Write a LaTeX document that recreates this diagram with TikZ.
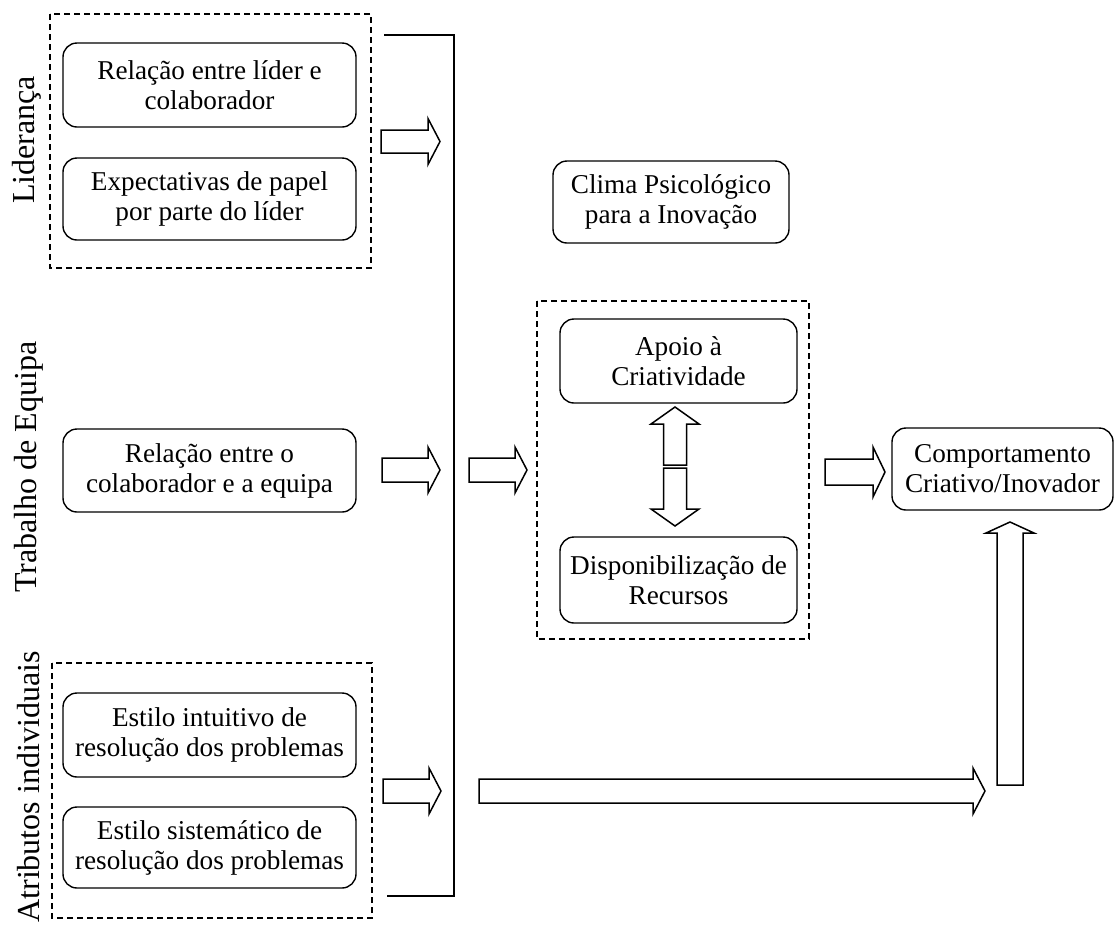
\documentclass[tikz,border=0pt]{standalone}
\usepackage{fontspec}
\setmainfont{Liberation Serif}

% Hollow block arrows: tail x, tip x, centre y, half body, half head, head length
\newcommand{\RBlock}[6]{%
  \draw[blk] (#1,#3-#4) -- (#2-#6,#3-#4) -- (#2-#6,#3-#5) -- (#2,#3)
    -- (#2-#6,#3+#5) -- (#2-#6,#3+#4) -- (#1,#3+#4) -- cycle;}
% centre x, tail y, tip y, half body, half head, head length (tip above)
\newcommand{\UBlock}[6]{%
  \draw[blk] (#1-#4,#2) -- (#1-#4,#3+#6) -- (#1-#5,#3+#6) -- (#1,#3)
    -- (#1+#5,#3+#6) -- (#1+#4,#3+#6) -- (#1+#4,#2) -- cycle;}
% same, tip below
\newcommand{\DBlock}[6]{%
  \draw[blk] (#1-#4,#2) -- (#1-#4,#3-#6) -- (#1-#5,#3-#6) -- (#1,#3)
    -- (#1+#5,#3-#6) -- (#1+#4,#3-#6) -- (#1+#4,#2) -- cycle;}

\begin{document}
\begin{tikzpicture}[x=1pt,y=-1pt,
  box/.style={draw, line width=1.4pt, rounded corners=14pt, align=center,
    inner sep=0pt, font=\fontsize{27.2}{30}\selectfont},
  dashframe/.style={draw, line width=1.4pt, dash pattern=on 6pt off 4pt},
  grouplabel/.style={rotate=90, anchor=base, inner sep=0pt,
    font=\fontsize{32}{36}\selectfont},
  blk/.style={draw, line width=1.5pt, line join=miter, fill=white},
  bracket/.style={draw, line width=1.6pt},
]
\useasboundingbox (0,0) rectangle (1115,924);

% group frames
\draw[dashframe] (50,14) rectangle (371,268);
\draw[dashframe] (52,663) rectangle (372,918);
\draw[dashframe] (537,301) rectangle (809,639);

% group labels
\node[grouplabel] (lidlbl) at (34,140) {Liderança};
\node[grouplabel] (trablbl) at (36,467) {Trabalho de Equipa};
\node[grouplabel] (atrlbl) at (39,787) {Atributos individuais};

% antecedent boxes
\node[box, minimum width=293pt, minimum height=84pt] (lidA) at (209.5,85)
  {Relação entre líder e\\colaborador};
\node[box, minimum width=293pt, minimum height=82pt] (lidB) at (209.5,199)
  {Expectativas de papel\\por parte do líder};
\node[box, minimum width=293pt, minimum height=83pt] (trab) at (209.5,470.5)
  {Relação entre o\\colaborador e a equipa};
\node[box, minimum width=293pt, minimum height=84pt] (atrA) at (209.5,735)
  {Estilo intuitivo de\\resolução dos problemas};
\node[box, minimum width=293pt, minimum height=81pt] (atrB) at (209.5,847.5)
  {Estilo sistemático de\\resolução dos problemas};

% climate boxes
\node[box, minimum width=236pt, minimum height=82pt] (clima) at (671,202)
  {Clima Psicológico\\para a Inovação};
\node[box, minimum width=237pt, minimum height=84pt] (apoio) at (678.5,361)
  {Apoio à\\Criatividade};
\node[box, minimum width=237pt, minimum height=86pt] (dispo) at (678.5,580)
  {Disponibilização de\\Recursos};

% outcome
\node[box, minimum width=221pt, minimum height=82pt] (comp) at (1002.5,469)
  {Comportamento\\Criativo/Inovador};

% bracket joining the three groups
\draw[bracket] (384,35) -- (454,35) -- (454,896) -- (387,896);

% block arrows
\RBlock{381}{440}{141.5}{11.5}{23}{12}
\RBlock{382}{440}{470}{12}{23}{12}
\RBlock{469}{527}{470}{12}{23}{12}
\RBlock{383}{441}{791}{12}{23}{12}
\RBlock{825}{885}{472}{13}{25}{12}
\RBlock{479}{985}{791}{12}{23}{12}
\UBlock{1010}{785}{522}{13}{24}{11}
\UBlock{675}{465}{407}{11.5}{24}{17}
\DBlock{675}{468}{526}{11.5}{24}{17}
\end{tikzpicture}
\end{document}
